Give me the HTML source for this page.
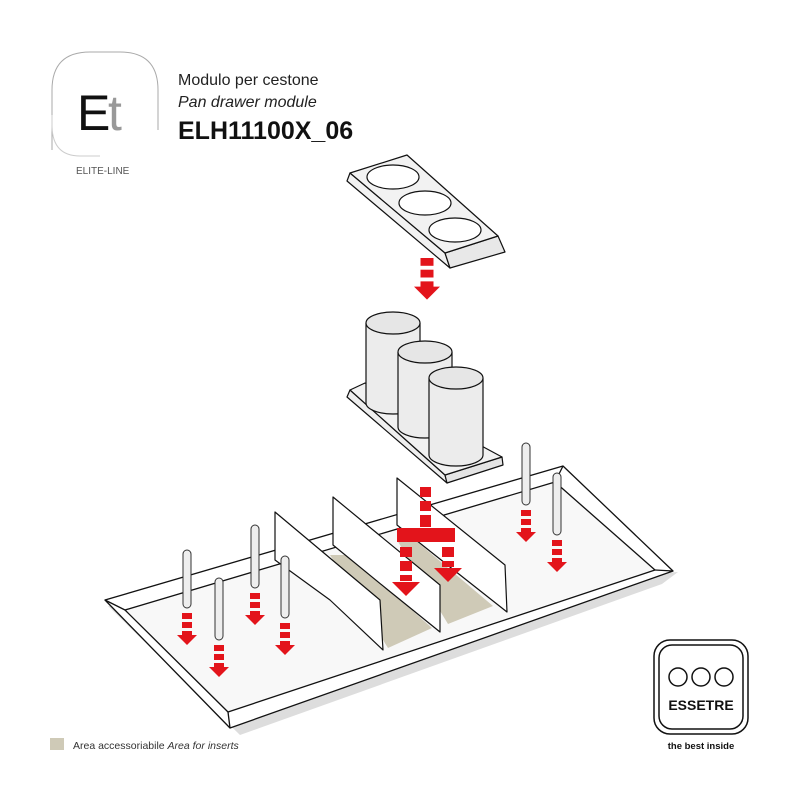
<!DOCTYPE html>
<html><head><meta charset="utf-8"><style>
body{margin:0;background:#fff;width:800px;height:800px;overflow:hidden;font-family:"Liberation Sans",sans-serif}
</style></head><body>
<svg width="800" height="800" viewBox="0 0 800 800" xmlns="http://www.w3.org/2000/svg" font-family="Liberation Sans, sans-serif">
<defs>
<g id="dash"><rect x="-5" y="0" width="10" height="6" fill="#e3141b"/><rect x="-5" y="9" width="10" height="6" fill="#e3141b"/><path d="M-5 18 h10 v4 h5 l-10 10 l-10 -10 h5z" fill="#e3141b"/></g>
</defs>
<!-- header logo -->
<path d="M52 150 V90 Q52 52 90 52 H120 Q158 52 158 90 V130" fill="none" stroke="#aaa" stroke-width="1"/>
<path d="M52 115 V125 Q52 156 80 156 H100" fill="none" stroke="#ccc" stroke-width="1"/>
<text x="77" y="130" font-size="50" fill="#111">E</text>
<text x="108" y="130" font-size="50" fill="#999">t</text>
<text x="76" y="174" font-size="10" fill="#555">ELITE-LINE</text>
<text x="178" y="85" font-size="16" fill="#222">Modulo per cestone</text>
<text x="178" y="107" font-size="16" font-style="italic" fill="#222">Pan drawer module</text>
<text x="178" y="139" font-size="25" font-weight="bold" fill="#111">ELH11100X_06</text>

<!-- top plate -->
<g stroke="#111" stroke-width="1.2" stroke-linejoin="round" fill="#f2f2f2">
<path d="M350 173 L445 253 L450 268 L347 181 Z"/>
<path d="M445 253 L498 236 L505 252 L450 268 Z" fill="#e8e8e8"/>
<path d="M350 173 L407 155 L498 236 L445 253 Z"/>
<ellipse cx="393" cy="177" rx="26" ry="12" fill="#fff"/>
<ellipse cx="425" cy="203" rx="26" ry="12" fill="#fff"/>
<ellipse cx="455" cy="230" rx="26" ry="12" fill="#fff"/>
</g>
<use href="#dash" transform="translate(427,258) scale(1.3)"/>

<!-- cylinder base -->
<g stroke="#111" stroke-width="1.2" stroke-linejoin="round" fill="#eee">
<path d="M350 390 L445 475 L447 483 L347 397 Z"/>
<path d="M445 475 L502 457 L503 465 L447 483 Z" fill="#e4e4e4"/>
<path d="M350 390 L365 383 L502 457 L445 475 Z" fill="#f2f2f2"/>
<path d="M366 323 V403 A27 11 0 0 0 420 403 V323" fill="#ececec"/>
<ellipse cx="393" cy="323" rx="27" ry="11" fill="#e6e6e6"/>
<path d="M398 352 V427 A27 11 0 0 0 452 427 V352" fill="#ececec"/>
<ellipse cx="425" cy="352" rx="27" ry="11" fill="#e6e6e6"/>
<path d="M429 378 V455 A27 11 0 0 0 483 455 V378" fill="#ececec"/>
<ellipse cx="456" cy="378" rx="27" ry="11" fill="#e6e6e6"/>
</g>

<!-- tray -->
<g stroke="#111" stroke-width="1.3" stroke-linejoin="round">
<path d="M108 606 L240 735 L662 584 L678 572 Z" fill="#ddd" stroke="none"/>
<path d="M105 600 L563 466 L673 571 L230 728 Z" fill="#fff"/>
<path d="M125 610 L555 482 L655 570 L228 712 Z" fill="#f8f8f8"/>
<path d="M105 600 L125 610 M563 466 L555 482 M673 571 L655 570 M230 728 L228 712" fill="none"/>
</g>
<!-- beige -->
<path d="M330 555 L350 555 L432 628 L388 648 Z" fill="#cfcab7"/>
<path d="M397 540 L415 540 L493 606 L448 624 Z" fill="#cfcab7"/>
<!-- dividers -->
<g stroke="#111" stroke-width="1.2" fill="#fff" stroke-linejoin="round">
<path d="M275 512 L380 600 L383 650 L330 600 L275 560 Z"/>
<path d="M333 497 L440 585 L440 632 L388 590 L333 545 Z"/>
<path d="M397 478 L505 565 L507 612 L450 567 L397 525 Z"/>
</g>
<!-- pins -->
<g stroke="#333" stroke-width="1" fill="#eee">
<rect x="183" y="550" width="8" height="58" rx="4"/>
<rect x="215" y="578" width="8" height="62" rx="4"/>
<rect x="251" y="525" width="8" height="63" rx="4"/>
<rect x="281" y="556" width="8" height="62" rx="4"/>
<rect x="522" y="443" width="8" height="62" rx="4"/>
<rect x="553" y="473" width="8" height="62" rx="4"/>
</g>
<use href="#dash" transform="translate(187,613)"/>
<use href="#dash" transform="translate(219,645)"/>
<use href="#dash" transform="translate(255,593)"/>
<use href="#dash" transform="translate(285,623)"/>
<use href="#dash" transform="translate(526,510)"/>
<use href="#dash" transform="translate(557,540)"/>
<!-- big T arrow -->
<g fill="#e3141b">
<rect x="420" y="487" width="11" height="10"/><rect x="420" y="501" width="11" height="10"/><rect x="420" y="515" width="11" height="12"/>
<rect x="397" y="528" width="58" height="14"/>
<rect x="400" y="547" width="12" height="10"/><rect x="400" y="561" width="12" height="10"/><rect x="400" y="575" width="12" height="6"/>
<path d="M392 582 h28 l-14 14 z"/>
<rect x="442" y="547" width="12" height="10"/><rect x="442" y="561" width="12" height="6"/>
<path d="M434 568 h28 l-14 14 z"/>
</g>

<!-- legend -->
<rect x="50" y="738" width="14" height="12" fill="#cfcab7"/>
<text x="73" y="749" font-size="10.5" fill="#333">Area accessoriabile <tspan font-style="italic">Area for inserts</tspan></text>

<!-- essetre logo -->
<rect x="654" y="640" width="94" height="94" rx="16" fill="none" stroke="#111" stroke-width="1.5"/>
<rect x="659" y="645" width="84" height="84" rx="13" fill="none" stroke="#111" stroke-width="1.5"/>
<circle cx="678" cy="677" r="9" fill="none" stroke="#111" stroke-width="1.5"/>
<circle cx="701" cy="677" r="9" fill="none" stroke="#111" stroke-width="1.5"/>
<circle cx="724" cy="677" r="9" fill="none" stroke="#111" stroke-width="1.5"/>
<text x="701" y="710" font-size="14" font-weight="bold" text-anchor="middle" fill="#111">ESSETRE</text>
<text x="701" y="749" font-size="9.5" font-weight="bold" text-anchor="middle" fill="#111">the best inside</text>
</svg>
</body></html>
